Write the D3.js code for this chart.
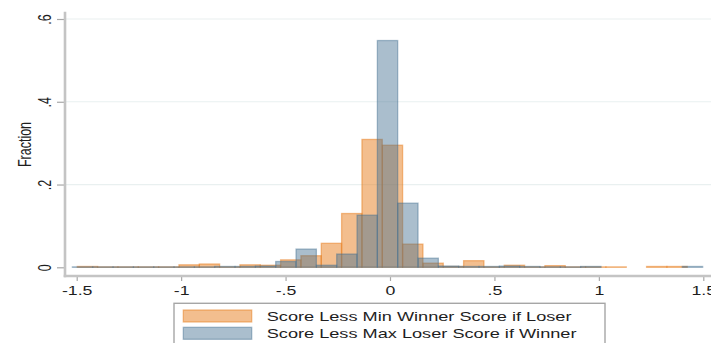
<!DOCTYPE html>
<html>
<head>
<meta charset="utf-8">
<script src="https://cdn.jsdelivr.net/npm/d3@7"></script>
<style>
  html, body { margin: 0; padding: 0; background: #fff; }
  svg { display: block; }
  text { font-family: "Liberation Sans", Arial, sans-serif; fill: #1e1e1e; }
</style>
</head>
<body>
<svg id="chart" width="711" height="343"></svg>
<script>
// Histogram bins: shared width, each series starts at its own minimum
const binWidth = 0.09734;
const loserStart = -1.4971;   // Score Less Min Winner Score if Loser
const winnerStart = -1.5206;  // Score Less Max Loser Score if Winner

// Fraction of observations in each bin
const loserFraction = [
  0.002, 0.001, 0.001, 0.001, 0.001, 0.006, 0.008, 0.001, 0.006, 0.005,
  0.018, 0.028, 0.058, 0.130, 0.309, 0.295, 0.056, 0.010, 0.002, 0.016,
  0.001, 0.005, 0.001, 0.004, 0.001, 0.001, 0.001, 0, 0.002, 0.002, 0
];
const winnerFraction = [
  0.001, 0.001, 0.001, 0.001, 0.001, 0.001, 0.001, 0.002, 0.002, 0.003,
  0.014, 0.044, 0.005, 0.032, 0.126, 0.548, 0.155, 0.022, 0.003, 0.002,
  0.002, 0.003, 0.002, 0.001, 0.001, 0.002, 0, 0, 0, 0, 0.002
];

const xTicks = [-1.5, -1, -0.5, 0, 0.5, 1, 1.5];
const xTickLabels = ["-1.5", "-1", "-.5", "0", ".5", "1", "1.5"];
const yTicks = [0, 0.2, 0.4, 0.6];
const yTickLabels = ["0", ".2", ".4", ".6"];
const seriesNames = ["Score Less Min Winner Score if Loser", "Score Less Max Loser Score if Winner"];

const svg = d3.select("#chart");
const stretch = 1.42; // horizontal text stretch of this layout

const x = d3.scaleLinear().domain([-1.5, 1.5]).range([76.7, 703.3]);
const y = d3.scaleLinear().domain([0, 0.6]).range([267.3, 19]);

const axisX = 65, axisY = 276;

// grid lines
svg.append("g").selectAll("line")
  .data(yTicks.filter(d => d > 0))
  .join("line")
  .attr("x1", axisX).attr("x2", 711)
  .attr("y1", d => y(d)).attr("y2", d => y(d))
  .attr("stroke", "#e9f0f0").attr("stroke-width", 1.2);

// bars
function toBins(start, values) {
  return values.map((v, i) => ({ x0: start + i * binWidth, x1: start + (i + 1) * binWidth, v }))
    .filter(d => d.v > 0);
}

const series = [
  { bins: toBins(loserStart, loserFraction), color: "rgb(232,125,30)", alpha: 0.5 },
  { bins: toBins(winnerStart, winnerFraction), color: "rgb(66,110,144)", alpha: 0.45 }
];

series.forEach(s => {
  svg.append("g").selectAll("rect")
    .data(s.bins)
    .join("rect")
    .attr("x", d => x(d.x0))
    .attr("width", d => x(d.x1) - x(d.x0))
    .attr("y", d => y(d.v))
    .attr("height", d => y(0) - y(d.v))
    .attr("fill", s.color).attr("fill-opacity", s.alpha)
    .attr("stroke", s.color).attr("stroke-opacity", s.alpha)
    .attr("stroke-width", 1.3);
});

// axes
const gx = svg.append("g")
  .attr("transform", `translate(0,${axisY})`)
  .call(d3.axisBottom(x).tickValues(xTicks).tickSize(5).tickSizeOuter(0)
    .tickFormat((d, i) => xTickLabels[i]));
gx.select(".domain").remove();
gx.selectAll(".tick line").attr("stroke", "#a8a8a8").attr("stroke-width", 1.2);
gx.selectAll(".tick text")
  .attr("y", 0).attr("dy", 0)
  .attr("transform", `translate(0,19) scale(${stretch},1)`)
  .attr("font-size", 12.5)
  .attr("fill", "#1e1e1e");

const gy = svg.append("g")
  .attr("transform", `translate(${axisX},0)`)
  .call(d3.axisLeft(y).tickValues(yTicks).tickSize(8).tickSizeOuter(0)
    .tickFormat((d, i) => yTickLabels[i]));
gy.select(".domain").remove();
gy.selectAll(".tick line").attr("stroke", "#a8a8a8").attr("stroke-width", 1.2);
gy.selectAll(".tick text")
  .attr("x", 0).attr("dy", 0)
  .attr("text-anchor", "middle")
  .attr("transform", `translate(-14,0) scale(${stretch},1) rotate(-90)`)
  .attr("font-size", 12.5)
  .attr("fill", "#1e1e1e");

// axis lines
svg.append("line")
  .attr("x1", axisX).attr("x2", axisX).attr("y1", 11.7).attr("y2", axisY + 1.2)
  .attr("stroke", "#c4c4c4").attr("stroke-width", 2.6);
svg.append("line")
  .attr("x1", axisX - 1.3).attr("x2", 711).attr("y1", axisY).attr("y2", axisY)
  .attr("stroke", "#c4c4c4").attr("stroke-width", 2.6);

// y axis title
svg.append("text")
  .attr("text-anchor", "middle")
  .attr("font-size", 12.5)
  .attr("transform", `translate(31,144.5) scale(${stretch},1) rotate(-90)`)
  .text("Fraction");

// legend
const legend = svg.append("g");
legend.append("rect")
  .attr("x", 174).attr("y", 303.3).attr("width", 431).attr("height", 60)
  .attr("fill", "#fff").attr("stroke", "#a6a6a6").attr("stroke-width", 1.4);

const keyRows = [
  { name: seriesNames[0], s: series[0], top: 310, base: 321 },
  { name: seriesNames[1], s: series[1], top: 327.3, base: 337.7 }
];
keyRows.forEach(r => {
  legend.append("rect")
    .attr("x", 183.3).attr("y", r.top).attr("width", 68.4).attr("height", 12)
    .attr("fill", r.s.color).attr("fill-opacity", r.s.alpha)
    .attr("stroke", r.s.color).attr("stroke-opacity", r.s.alpha)
    .attr("stroke-width", 1.3);
  legend.append("text")
    .attr("font-size", 12.8)
    .attr("transform", `translate(266.7,${r.base}) scale(${stretch},1)`)
    .text(r.name);
});
</script>
</body>
</html>
